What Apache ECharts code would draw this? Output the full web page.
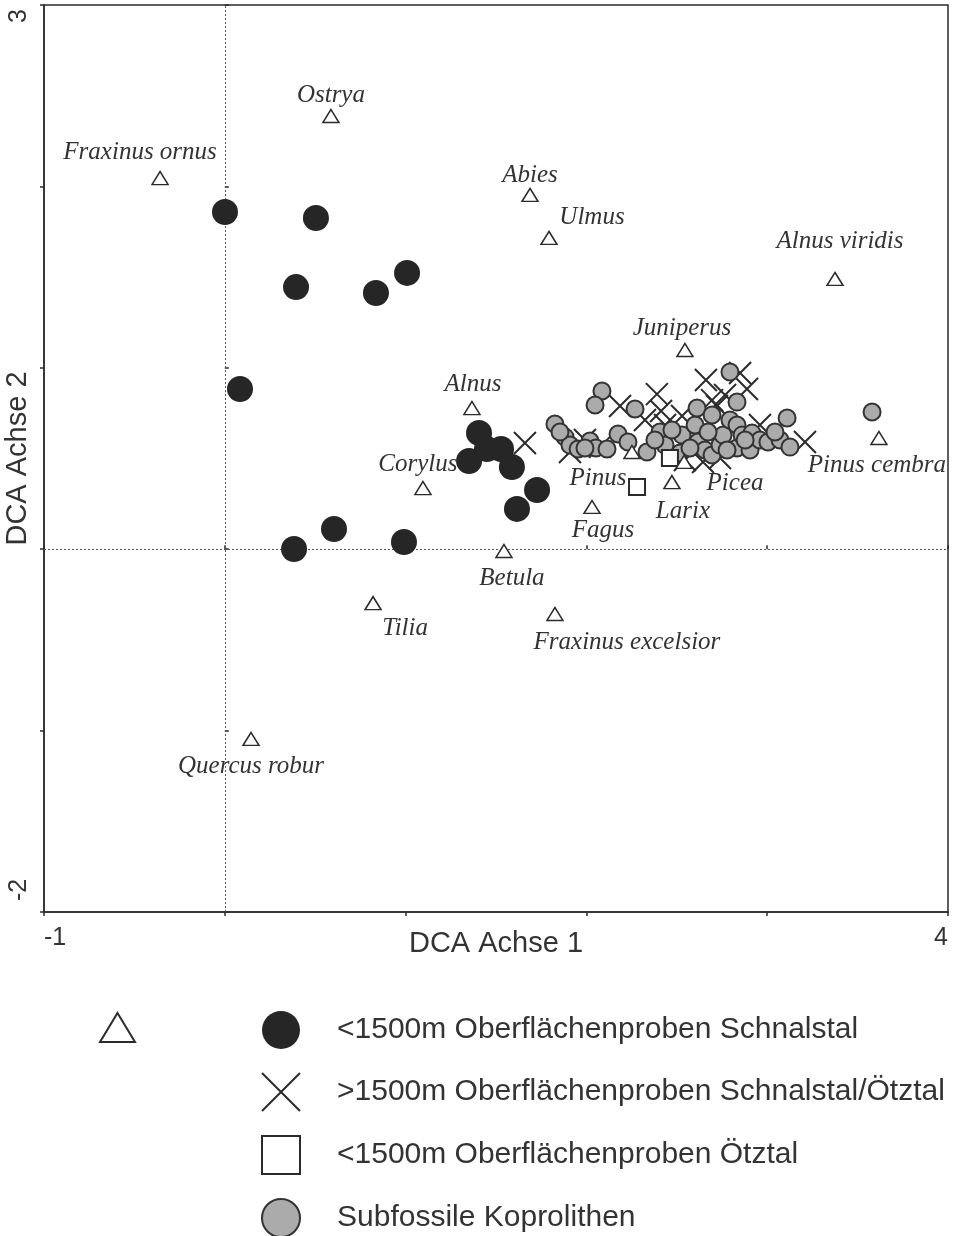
<!DOCTYPE html>
<html>
<head>
<meta charset="utf-8">
<script src="https://cdn.jsdelivr.net/npm/echarts@6/dist/echarts.min.js"></script>
<style>
html,body{margin:0;padding:0;background:#fff;}
#chart{width:957px;height:1236px;}
</style>
</head>
<body>
<div id="chart"></div>
<script>
// ---- data ----
const taxa = ['Ostrya','Fraxinus ornus','Abies','Ulmus','Alnus viridis','Juniperus','Alnus','Pinus cembra','Corylus','Pinus','Fagus','Larix','Picea','Betula','Tilia','Fraxinus excelsior','Quercus robur'];
const taxaX = [0.587,-0.358,1.688,1.793,3.375,2.545,1.367,3.618,1.096,2.252,2.031,2.473,2.540,1.544,0.820,1.826,0.145];
const taxaY = [2.388,2.046,1.953,1.716,1.490,1.098,0.778,0.613,0.337,0.536,0.233,0.370,0.481,-0.010,-0.297,-0.357,-1.046];

const schnalsX = [0.001,0.504,0.394,0.836,1.008,0.084,0.383,0.604,0.991,1.406,1.351,1.450,1.528,1.588,1.727,1.616];
const schnalsY = [1.859,1.826,1.445,1.412,1.523,0.883,0.001,0.111,0.040,0.641,0.486,0.552,0.552,0.453,0.326,0.222];

const highX = [1.660,2.186,2.390,2.413,2.529,2.661,2.695,2.722,2.850,2.888,3.209,1.992,2.075,1.909,2.645,2.739,2.435,2.324,2.767,2.545,2.960];
const highY = [0.585,0.789,0.855,0.762,0.734,0.933,0.822,0.789,0.971,0.883,0.591,0.602,0.564,0.536,0.481,0.503,0.685,0.712,0.850,0.492,0.685];

const oetzX = [2.280,2.462];
const oetzY = [0.343,0.503];

const koproX = [2.086,2.048,2.269,1.826,1.882,1.909,1.954,2.020,2.053,2.114,2.175,2.335,2.407,2.435,2.518,2.529,2.601,2.612,2.617,2.656,2.695,2.695,2.739,2.756,2.794,2.794,2.833,2.833,2.833,2.861,2.905,2.916,2.960,3.004,3.071,3.110,3.126,3.580,1.854,1.992,2.230,2.473,2.573,2.379,3.043,2.673,2.878,2.778];
const koproY = [0.872,0.795,0.773,0.690,0.618,0.574,0.552,0.596,0.558,0.552,0.635,0.536,0.646,0.574,0.530,0.629,0.685,0.778,0.591,0.547,0.740,0.519,0.574,0.629,0.977,0.712,0.811,0.685,0.558,0.629,0.547,0.640,0.602,0.591,0.602,0.723,0.563,0.756,0.646,0.558,0.591,0.657,0.558,0.602,0.646,0.646,0.602,0.547];

const xTickLabels = ['-1','4'];
const yTickLabels = ['3','-2'];
const xName = 'DCA Achse 1';
const yName = 'DCA Achse 2';
const nameTaxa = 'Taxa';
const nameSchnals = '<1500m Oberflächenproben Schnalstal';
const nameHigh = '>1500m Oberflächenproben Schnalstal/Ötztal';
const nameOetz = '<1500m Oberflächenproben Ötztal';
const nameKopro = 'Subfossile Koprolithen';

// ---- label placement (style, not data): pixel offset of label centre from marker ----
const labelOffset = {
  'Ostrya':[0,-21], 'Fraxinus ornus':[-20,-26], 'Abies':[0,-20], 'Ulmus':[43,-20],
  'Alnus viridis':[5,-37], 'Juniperus':[-3,-22], 'Alnus':[1,-24], 'Pinus cembra':[-2,27],
  'Corylus':[-5,-24], 'Pinus':[-34,26], 'Fagus':[11,23], 'Larix':[11,29], 'Picea':[51,21],
  'Betula':[8,27], 'Tilia':[32,25], 'Fraxinus excelsior':[72,28], 'Quercus robur':[0,27]
};

const zip = (xs, ys) => xs.map((x, i) => [x, ys[i]]);
const crossPath = 'path://M0,0L10,10M10,0L0,10';
const ink = '#2b2b2b';
const sans = 'Liberation Sans, Arial, sans-serif';

const chart = echarts.init(document.getElementById('chart'), null, {renderer:'canvas'});

const axisCommon = {
  type:'value', interval:1,
  splitLine:{show:false},
  axisLine:{show:true, onZero:false, lineStyle:{color:ink, width:1.5}},
};

const option = {
  backgroundColor:'#fff',
  animation:false,
  grid:{left:44, right:9, top:5, bottom:324, show:true, borderColor:ink, borderWidth:1.5,
        containLabel:false, outerBoundsMode:'none'},
  xAxis:[
    Object.assign({}, axisCommon, {
      min:-1, max:4, position:'bottom',
      axisTick:{show:true, inside:false, length:4, lineStyle:{color:ink, width:1.5}},
      axisLabel:{
        show:true, margin:14, fontSize:25, color:'#333', fontFamily:sans,
        formatter:v => (String(v) === xTickLabels[0] || String(v) === xTickLabels[1]) ? String(v) : '',
        alignMinLabel:'left', alignMaxLabel:'right'
      },
      name:xName, nameLocation:'middle', nameGap:17, nameMoveOverlap:false,
      nameTextStyle:{fontSize:29, color:'#333', fontFamily:sans}
    }),
    Object.assign({}, axisCommon, {
      min:-1, max:4, position:'bottom',
      axisLine:{show:false},
      axisTick:{show:true, inside:true, length:4, lineStyle:{color:ink, width:1.5}},
      axisLabel:{show:false}
    })
  ],
  yAxis:[
    Object.assign({}, axisCommon, {
      min:-2, max:3, position:'left',
      axisTick:{show:true, inside:false, length:4, lineStyle:{color:ink, width:1.5}},
      axisLabel:{
        show:true, margin:12, fontSize:25, color:'#333', rotate:90, fontFamily:sans,
        formatter:v => String(v) === yTickLabels[0] ? '{a|' + v + '}' : (String(v) === yTickLabels[1] ? '{b|' + v + '}' : ''),
        rich:{a:{fontSize:25, fontFamily:sans, color:'#333', padding:[0,4,0,0]},
              b:{fontSize:25, fontFamily:sans, color:'#333', padding:[0,0,0,11]}},
        alignMinLabel:'left', alignMaxLabel:'right'
      },
      name:yName, nameLocation:'middle', nameGap:12, nameMoveOverlap:false,
      nameTextStyle:{fontSize:29, color:'#333', fontFamily:sans}
    }),
    Object.assign({}, axisCommon, {
      min:-2, max:3, position:'left',
      axisLine:{show:false},
      axisTick:{show:true, inside:true, length:4, lineStyle:{color:ink, width:1.5}},
      axisLabel:{show:false}
    })
  ],
  legend:[
    {
      data:[nameSchnals, nameHigh, nameOetz, nameKopro],
      orient:'vertical', left:261, top:1011, height:240, padding:0,
      itemWidth:38, itemHeight:38, itemGap:23,
      selectedMode:false,
      textStyle:{fontSize:30, color:'#333', fontFamily:sans, padding:[0,0,0,32]}
    },
    {
      data:[nameTaxa], orient:'vertical', left:99, top:1012, padding:0,
      itemWidth:35, itemHeight:29,
      selectedMode:false, formatter:() => ''
    }
  ],
  series:[
    {
      name:nameHigh, type:'scatter', z:2,
      symbol:crossPath, symbolSize:22,
      itemStyle:{color:'transparent', borderColor:ink, borderWidth:2, opacity:1},
      data:zip(highX, highY)
    },
    {
      name:nameKopro, type:'scatter', z:3,
      symbol:'circle', symbolSize:17,
      itemStyle:{color:'#ababab', borderColor:'#333', borderWidth:2, opacity:1},
      data:zip(koproX, koproY)
    },
    {
      name:nameOetz, type:'scatter', z:4,
      symbol:'rect', symbolSize:16,
      itemStyle:{color:'#fff', borderColor:ink, borderWidth:2, opacity:1},
      data:zip(oetzX, oetzY)
    },
    {
      name:nameSchnals, type:'scatter', z:4,
      symbol:'circle', symbolSize:26,
      itemStyle:{color:'#262626', opacity:1},
      data:zip(schnalsX, schnalsY)
    },
    {
      name:nameTaxa, type:'scatter', z:5,
      symbol:'triangle', symbolSize:[16,13],
      itemStyle:{color:'#fff', borderColor:ink, borderWidth:1.5, opacity:1},
      data:taxa.map((n, i) => ({name:n, value:[taxaX[i], taxaY[i]]})),
      label:{
        show:true, position:'inside', formatter:'{b}', align:'center', verticalAlign:'middle',
        fontFamily:'Liberation Serif, Times New Roman, serif', fontStyle:'italic', fontSize:25, color:'#333'
      },
      labelLayout:function (p) {
        const o = labelOffset[taxa[p.dataIndex]] || [0, 0];
        return {dx:o[0], dy:o[1], hideOverlap:false};
      },
      markLine:{
        silent:true, symbol:'none', z:1,
        label:{show:false},
        lineStyle:{color:'#555', width:1, type:[2,2]},
        data:[{xAxis:0}, {yAxis:0}]
      }
    }
  ]
};
chart.setOption(option);
</script>
</body>
</html>
